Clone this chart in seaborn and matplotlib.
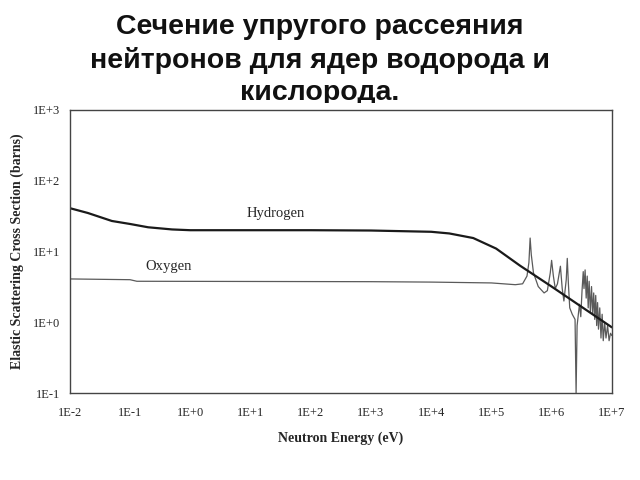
import pandas as pd
import matplotlib
matplotlib.use("Agg")
import matplotlib.pyplot as plt
import seaborn as sns
from matplotlib.ticker import LogLocator, NullFormatter
from matplotlib.patches import Rectangle

# hydrogen elastic cross section
h_energy = [1e-2, 2e-2, 5e-2, 1e-1, 2e-1, 5e-1, 1, 10, 1e2, 1e3, 1e4, 2e4, 5e4,
            1.2e5, 3e5, 1e6, 3e6, 1e7]
h_sigma = [41, 35, 27, 24.5, 22, 20.5, 20, 20, 20, 19.8, 19.0, 18.0, 15.5,
           11.0, 6.3, 3.2, 1.7, 0.85]

# oxygen elastic cross section
o_energy = [1e-2, 0.1, 0.13, 1e3, 1e4, 1e5, 2.5e5, 3.3e5, 3.9e5, 4.2e5, 4.4e5, 4.6e5,
            5.0e5, 6.0e5, 7.5e5, 8.5e5, 9.5e5, 1.0e6, 1.07e6, 1.15e6, 1.25e6, 1.4e6,
            1.5e6, 1.6e6, 1.75e6, 1.82e6, 1.9e6, 2.0e6, 2.2e6, 2.45e6, 2.55e6, 2.65e6,
            2.9e6, 3.05e6, 3.2e6, 3.35e6, 3.45e6, 3.6e6, 3.75e6, 3.9e6, 4.05e6, 4.2e6,
            4.4e6, 4.6e6, 4.8e6, 5.0e6, 5.2e6, 5.4e6, 5.6e6, 5.8e6, 6.0e6, 6.3e6,
            6.6e6, 6.9e6, 7.2e6, 7.6e6, 8.0e6, 8.5e6, 9.0e6, 9.5e6, 1e7]
o_sigma = [4.1, 4.0, 3.8, 3.75, 3.7, 3.6, 3.4, 3.5, 4.5, 7, 15.5, 9,
           5.0, 3.2, 2.6, 2.8, 5, 7.5, 4.5, 3.0, 3.5, 6.2,
           3.0, 2.0, 4, 8.0, 3.5, 1.6, 1.3, 1.1, 0.1, 0.9,
           1.8, 1.2, 2.8, 5.2, 3.0, 5.5, 2.2, 4.5, 1.6, 3.8,
           1.4, 3.2, 1.3, 2.6, 1.1, 2.4, 0.9, 1.9, 0.8, 1.6,
           0.6, 1.3, 0.55, 1.0, 0.6, 0.9, 0.55, 0.7, 0.65]

x_ticks = [1e-2, 1e-1, 1e0, 1e1, 1e2, 1e3, 1e4, 1e5, 1e6, 1e7]
x_labels = ["1E-2", "1E-1", "1E+0", "1E+1", "1E+2", "1E+3", "1E+4", "1E+5", "1E+6", "1E+7"]
y_ticks = [1e-1, 1e0, 1e1, 1e2, 1e3]
y_labels = ["1E-1", "1E+0", "1E+1", "1E+2", "1E+3"]

title = "Сечение упругого рассеяния\nнейтронов для ядер водорода и\nкислорода."

sns.set_style("white")
serif = "Liberation Serif"

fig = plt.figure(figsize=(6.4, 4.8), dpi=100)
ax = fig.add_axes([0.109, 0.181, 0.847, 0.590])

df_h = pd.DataFrame({"E": h_energy, "sigma": h_sigma})
df_o = pd.DataFrame({"E": o_energy, "sigma": o_sigma})
sns.lineplot(data=df_o, x="E", y="sigma", ax=ax, color="#5a5a5a", lw=0.9,
             estimator=None, sort=False)
sns.lineplot(data=df_h, x="E", y="sigma", ax=ax, color="#1a1a1a", lw=1.6,
             estimator=None, sort=False)

ax.set_xscale("log")
ax.set_yscale("log")
ax.set_xlim(1e-2, 1e7)
ax.set_ylim(1e-1, 1e3)

ax.set_xticks(x_ticks, labels=x_labels, fontfamily=serif, fontsize=9)
ax.set_yticks(y_ticks, labels=y_labels, fontfamily=serif, fontsize=9)
ax.xaxis.set_minor_locator(LogLocator(base=10, subs=range(2, 10), numticks=20))
ax.yaxis.set_minor_locator(LogLocator(base=10, subs=range(2, 10), numticks=20))
ax.xaxis.set_minor_formatter(NullFormatter())
ax.yaxis.set_minor_formatter(NullFormatter())
ax.tick_params(which="major", direction="in", length=3, width=0.8, color="#444444", pad=10)
ax.tick_params(which="minor", direction="in", length=1.8, width=0.6, color="#444444")
ax.tick_params(axis="y", which="major", pad=7)

for s in ax.spines.values():
    s.set_color("#444444")
    s.set_linewidth(1.0)

ax.set_xlabel("Neutron Energy (eV)", fontfamily=serif, fontweight="bold", fontsize=10)
ax.set_ylabel("Elastic Scattering Cross Section (barns)", fontfamily=serif,
              fontweight="bold", fontsize=10)
ax.xaxis.set_label_coords(0.5, -0.135)
ax.yaxis.set_label_coords(-0.085, 0.5)

ax.text(26, 34, "Hydrogen", fontfamily=serif, fontsize=10.5, ha="center", va="center")
ax.text(0.43, 6.2, "Oxygen", fontfamily=serif, fontsize=10.5, ha="center", va="center")

fig.text(0.50, 0.97, title, ha="center", va="top", fontsize=20.5, fontweight="bold",
         family=["Liberation Sans", "DejaVu Sans"], linespacing=1.3, color="#111111")
# the chart image hides the bottom of the last title line
fig.add_artist(Rectangle((0.3, 1 - 108 / 480), 0.4, 5 / 480, transform=fig.transFigure,
                         facecolor="white", edgecolor="none", zorder=10))

fig.savefig("out.png", dpi=100)
